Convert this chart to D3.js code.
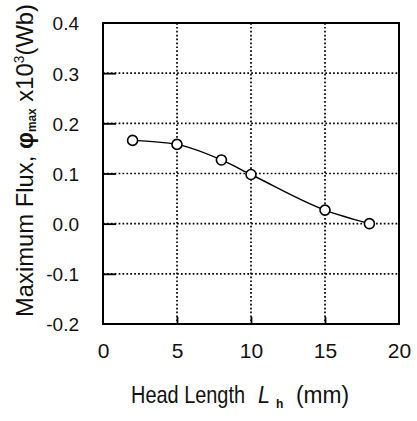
<!DOCTYPE html>
<html>
<head>
<meta charset="utf-8">
<script src="https://cdn.jsdelivr.net/npm/d3@7"></script>
<style>
  body { margin: 0; background: #fff; }
  svg { display: block; }
</style>
</head>
<body>
<div id="chart"></div>
<script>
// data
const headLength = [2, 5, 8, 10, 15, 18];           // mm
const maxFlux = [0.166, 0.158, 0.127, 0.098, 0.027, 0.0]; // x10^3 Wb
const xTicks = [0, 5, 10, 15, 20];
const yTicks = [-0.2, -0.1, 0.0, 0.1, 0.2, 0.3, 0.4];

const width = 417, height = 421;
const margin = { top: 23, right: 18, bottom: 97, left: 103 };
const plotW = width - margin.left - margin.right;
const plotH = height - margin.top - margin.bottom;
const font = '"Liberation Sans", Arial, sans-serif';

const svg = d3.select('#chart')
  .append('svg')
  .attr('width', width)
  .attr('height', height);

const chart = svg.append('g')
  .attr('transform', `translate(${margin.left}, ${margin.top})`);

const x = d3.scaleLinear().domain([0, 20]).range([0, plotW]);
const y = d3.scaleLinear().domain([-0.2, 0.4]).range([plotH, 0]);

// dotted grid
chart.append('g')
  .selectAll('line')
  .data(xTicks.slice(1, -1))
  .enter()
  .append('line')
  .attr('x1', d => x(d)).attr('x2', d => x(d))
  .attr('y1', 0).attr('y2', plotH)
  .attr('stroke', '#000')
  .attr('stroke-width', 1.7)
  .attr('stroke-dasharray', '1.7,2.2');

chart.append('g')
  .selectAll('line')
  .data(yTicks.slice(1, -1))
  .enter()
  .append('line')
  .attr('x1', 0).attr('x2', plotW)
  .attr('y1', d => y(d)).attr('y2', d => y(d))
  .attr('stroke', '#000')
  .attr('stroke-width', 1.7)
  .attr('stroke-dasharray', '1.7,2.2');

// axes with inward ticks
const xAxis = chart.append('g')
  .attr('transform', `translate(0, ${plotH})`)
  .call(d3.axisBottom(x).tickValues(xTicks).tickFormat(d3.format('d'))
    .tickSizeInner(-7).tickSizeOuter(0).tickPadding(19));

const yAxis = chart.append('g')
  .call(d3.axisLeft(y).tickValues(yTicks).tickFormat(d => d.toFixed(1))
    .tickSizeInner(-13).tickSizeOuter(0).tickPadding(24));

[xAxis, yAxis].forEach(g => {
  g.select('.domain').remove();
  g.selectAll('line').attr('stroke', '#000').attr('stroke-width', 1.8);
  g.selectAll('text')
    .attr('fill', '#111')
    .style('font-family', font);
});
xAxis.selectAll('text').style('font-size', '21px');
yAxis.selectAll('text').style('font-size', '19px').attr('dy', '0.36em');
xAxis.selectAll('.tick').filter(d => d === 0 || d === 20).select('line').remove();
yAxis.selectAll('.tick').filter(d => d === -0.2 || d === 0.4).select('line').remove();

// frame
chart.append('rect')
  .attr('width', plotW)
  .attr('height', plotH)
  .attr('fill', 'none')
  .attr('stroke', '#000')
  .attr('stroke-width', 2);

// data line and markers
const points = headLength.map((d, i) => [d, maxFlux[i]]);

chart.append('path')
  .datum(points)
  .attr('fill', 'none')
  .attr('stroke', '#000')
  .attr('stroke-width', 1.4)
  .attr('d', d3.line().x(d => x(d[0])).y(d => y(d[1])).curve(d3.curveMonotoneX));

chart.append('g')
  .selectAll('circle')
  .data(points)
  .enter()
  .append('circle')
  .attr('cx', d => x(d[0]))
  .attr('cy', d => y(d[1]))
  .attr('r', 5)
  .attr('fill', '#fff')
  .attr('stroke', '#000')
  .attr('stroke-width', 1.6);

// x axis title, pieces laid out like the scan
const xTitle = svg.append('g')
  .attr('fill', '#111')
  .style('font-family', font);
xTitle.append('text')
  .attr('transform', 'translate(131, 403) scale(0.83, 1)')
  .style('font-size', '24px')
  .text('Head Length');
xTitle.append('text')
  .attr('transform', 'translate(258, 403) scale(0.9, 1)')
  .style('font-size', '24px')
  .style('font-style', 'italic')
  .text('L');
xTitle.append('text')
  .attr('x', 276).attr('y', 408)
  .style('font-size', '12px')
  .style('font-weight', 'bold')
  .text('h');
xTitle.append('text')
  .attr('transform', 'translate(296, 403) scale(0.95, 1)')
  .style('font-size', '24px')
  .text('(mm)');

const yTitle = svg.append('text')
  .attr('transform', 'translate(33, 317) rotate(-90)')
  .attr('textLength', 313)
  .attr('lengthAdjust', 'spacingAndGlyphs')
  .style('font-family', font)
  .style('font-size', '24px')
  .attr('fill', '#111');
yTitle.append('tspan').text('Maximum Flux, ');
yTitle.append('tspan').style('font-weight', 'bold').text('φ');
yTitle.append('tspan').attr('dy', 3).style('font-size', '12px').style('font-weight', 'bold').text('max');
yTitle.append('tspan').attr('dy', -3).text(' x10');
yTitle.append('tspan').attr('dy', -9).style('font-size', '14px').text('3');
yTitle.append('tspan').attr('dy', 9).text('(Wb)');
</script>
</body>
</html>
